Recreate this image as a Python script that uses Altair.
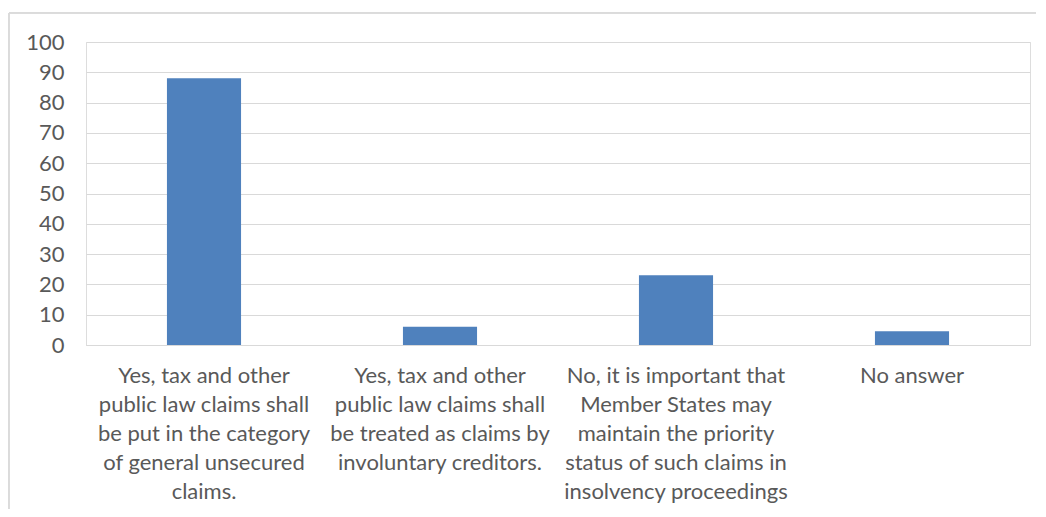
import altair as alt
import pandas as pd

categories = [
    "Yes, tax and other|public law claims shall|be put in the category|of general unsecured|claims.",
    "Yes, tax and other|public law claims shall|be treated as claims by|involuntary creditors.",
    "No, it is important that|Member States may|maintain the priority|status of such claims in|insolvency proceedings",
    "No answer",
]
values = [88, 6, 23, 4.5]
y_ticks = [0, 10, 20, 30, 40, 50, 60, 70, 80, 90, 100]

df = pd.DataFrame({"category": categories, "value": values})

FONT = "Lato"
GRAY = "#595959"

bars = alt.Chart(df).mark_bar(color="#4f81bd").encode(
    x=alt.X(
        "category:N",
        sort=None,
        title=None,
        scale=alt.Scale(paddingInner=0.686, paddingOuter=0.343),
        axis=alt.Axis(
            labelExpr="split(datum.label, '|')",
            labelAngle=0,
            labelFont=FONT,
            labelFontSize=22,
            labelColor=GRAY,
            labelLineHeight=29,
            labelPadding=20,
            labelLimit=0,
            ticks=False,
            domainColor="#d9d9d9",
            domainWidth=1,
            labelBaseline="top",
        ),
    ),
    y=alt.Y(
        "value:Q",
        title=None,
        scale=alt.Scale(domain=[0, 100]),
        axis=alt.Axis(
            values=y_ticks,
            labelFont=FONT,
            labelFontSize=22,
            labelColor=GRAY,
            labelPadding=22,
            ticks=False,
            domain=False,
            gridColor="#d9d9d9",
            gridWidth=1,
        ),
    ),
)

frame = alt.Chart(df).mark_rect(fill=None, stroke="#d9d9d9", strokeWidth=1).encode(
    x=alt.value(-77),
    y=alt.value(-29),
    x2=alt.value(990),
    y2=alt.value(600),
)

chart = alt.layer(frame, bars).properties(
    width=944,
    height=303,
    padding={"left": 78, "top": 34, "right": 6, "bottom": 164},
    autosize=alt.AutoSizeParams(type="none"),
).configure_view(stroke=None).configure(background="white")

chart.save("out.html", embed_options={"renderer": "svg", "actions": False})
